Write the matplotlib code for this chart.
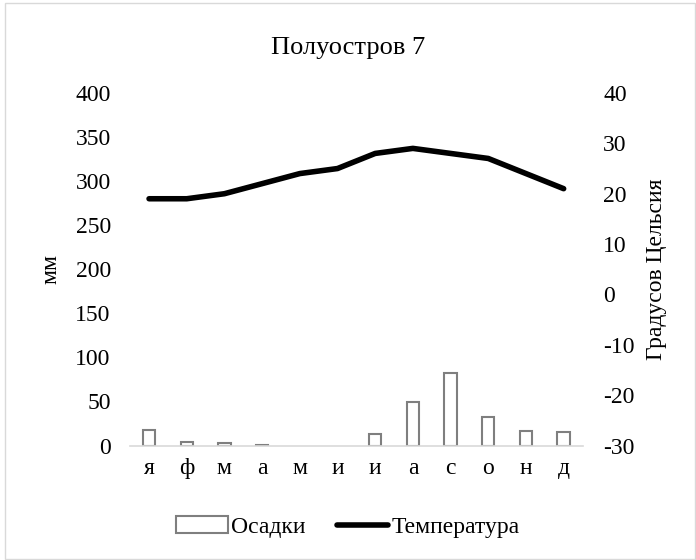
import matplotlib
matplotlib.use("Agg")
import matplotlib.pyplot as plt
from matplotlib.patches import Rectangle

months = ["я", "ф", "м", "а", "м", "и", "и", "а", "с", "о", "н", "д"]
precip = [18, 4, 2.5, 1, 0, 0, 12.5, 49, 82, 32, 16, 15]
temp = [19, 19, 20, 22, 24, 25, 28, 29, 28, 27, 24, 21]

plt.rcParams['font.family'] = ['Liberation Serif', 'DejaVu Serif']
plt.rcParams['axes.unicode_minus'] = False

FS = 17
fig = plt.figure(figsize=(6.96, 5.60), dpi=100)
ax = fig.add_axes([130.2 / 696, 1 - 445.5 / 560, 452.3 / 696, 352.5 / 560])
x = list(range(len(months)))
bars = ax.bar(x, precip, width=0.33, facecolor='white', edgecolor='#7f7f7f',
              linewidth=1.5, label='Осадки', zorder=2)
for b, v in zip(bars, precip):
    if v == 0:
        b.set_linewidth(0)
ax.set_xlim(-0.5, len(months) - 0.5)
ax.set_ylim(0, 400)
ax.set_yticks(range(0, 401, 50))
ax.set_xticks(x)
ax.set_xticklabels(months)
ax.set_ylabel('мм', fontsize=FS, labelpad=10)
for s in ['top', 'right', 'left']:
    ax.spines[s].set_visible(False)
ax.spines['bottom'].set_color('#d9d9d9')
ax.spines['bottom'].set_linewidth(1.2)
ax.tick_params(axis='x', length=0, labelsize=FS, pad=9)
ax.tick_params(axis='y', length=0, labelsize=FS, pad=14)

ax2 = ax.twinx()
line, = ax2.plot(x, temp, color='black', linewidth=4, label='Температура',
                 solid_capstyle='round', zorder=3)
ax2.set_ylim(-30, 40)
ax2.set_yticks(range(-30, 41, 10))
for s in ['top', 'right', 'left', 'bottom']:
    ax2.spines[s].set_visible(False)
ax2.tick_params(axis='y', length=0, labelsize=FS, pad=15)
ax2.set_ylabel('Градусов Цельсия', fontsize=FS, labelpad=8)

fig.text(0.5, 1 - 54 / 560, 'Полуостров 7', ha='center', va='baseline', fontsize=19)

leg = fig.legend([bars, line], ['Осадки', 'Температура'], loc='center',
                 ncol=2, frameon=False, fontsize=FS, handlelength=2.2,
                 handletextpad=0.15, columnspacing=1.3, borderpad=0)
leg.set_bbox_to_anchor((0.5, 1 - 527 / 560), transform=fig.transFigure)

fig.patches.append(Rectangle((4.5 / 696, 1.5 / 560), 690 / 696, 556 / 560, transform=fig.transFigure,
                             fill=False, edgecolor='#d9d9d9', linewidth=1))

fig.savefig('out.png', dpi=100)
